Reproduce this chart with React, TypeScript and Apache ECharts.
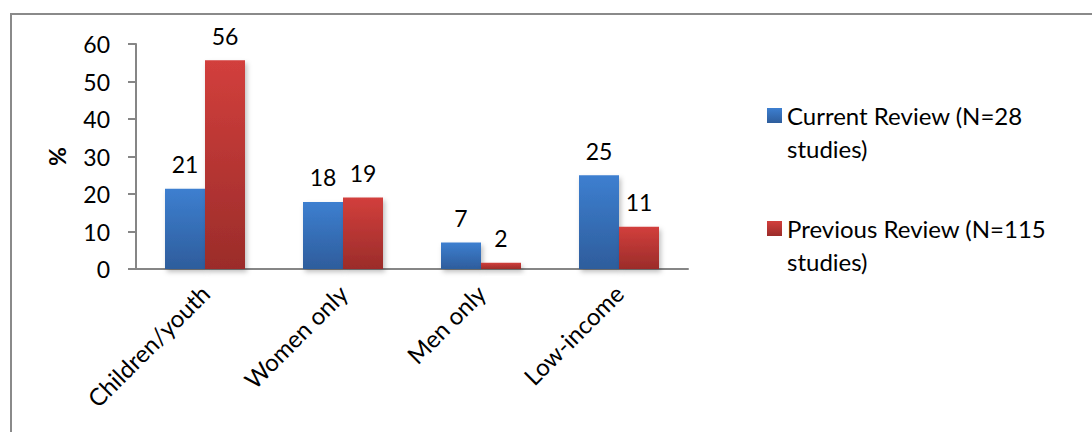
import React, { useEffect, useRef } from "react";
import * as echarts from "echarts";

const categories = ["Children/youth", "Women only", "Men only", "Low-income"];
const currentReview = [21.4, 17.9, 7.1, 25.0];
const previousReview = [55.7, 19.1, 1.7, 11.3];
const seriesNames = ["Current Review (N=28\nstudies)", "Previous Review (N=115\nstudies)"];
const yTicks = { min: 0, max: 60, interval: 10 };

const FONT = "Lato, 'Open Sans', sans-serif";

const blueGrad = new echarts.graphic.LinearGradient(0, 0, 0, 1, [
  { offset: 0, color: "#3d7fd0" },
  { offset: 1, color: "#2e5d9c" },
]);
const redGrad = new echarts.graphic.LinearGradient(0, 0, 0, 1, [
  { offset: 0, color: "#d23f3c" },
  { offset: 1, color: "#9b2c2a" },
]);

export default function App() {
  const ref = useRef<HTMLDivElement>(null);
  useEffect(() => {
    const chart = echarts.init(ref.current!, null, { renderer: "svg" });
    const labelCfg = {
      show: true,
      position: "top",
      distance: 13,
      fontFamily: FONT,
      fontSize: 23,
      color: "#000",
      formatter: (p: any) => String(Math.round(p.value)),
    };
    const shadow = {
      shadowBlur: 5,
      shadowOffsetX: 2,
      shadowOffsetY: 3,
      shadowColor: "rgba(0,0,0,0.25)",
    };
    chart.setOption({
      animation: false,
      backgroundColor: "#fff",
      graphic: [
        {
          type: "rect",
          shape: { x: 11, y: 14, width: 1200, height: 600 },
          style: { fill: "none", stroke: "#8a8a8a", lineWidth: 2 },
          silent: true,
          z: 0,
        },
      ],
      grid: { left: 136, top: 44, right: 404, bottom: 163 },
      legend: {
        orient: "vertical",
        left: 762,
        top: 61,
        itemWidth: 15,
        itemHeight: 15,
        itemGap: 14,
        icon: "rect",
        formatter: (name: string) => "\n" + name,
        textStyle: { fontFamily: FONT, fontSize: 24, color: "#000", lineHeight: 33 },
        data: seriesNames,
      },
      xAxis: {
        type: "category",
        data: categories,
        axisLine: { lineStyle: { color: "#868686", width: 2 } },
        axisTick: { length: 7, lineStyle: { color: "#868686", width: 2 } },
        axisLabel: {
          rotate: 45,
          margin: 20,
          interval: 0,
          fontFamily: FONT,
          fontSize: 24,
          color: "#000",
        },
      },
      yAxis: {
        type: "value",
        min: yTicks.min,
        max: yTicks.max,
        interval: yTicks.interval,
        name: "%",
        nameLocation: "middle",
        nameGap: 68,
        nameRotate: 90,
        nameTextStyle: { fontFamily: FONT, fontSize: 23, fontWeight: "bold", color: "#000" },
        splitLine: { show: false },
        axisLine: { show: true, lineStyle: { color: "#868686", width: 2 } },
        axisTick: { show: true, length: 8, lineStyle: { color: "#868686", width: 2 } },
        axisLabel: { margin: 26, fontFamily: FONT, fontSize: 23, color: "#000" },
      },
      series: [
        {
          name: seriesNames[0],
          type: "bar",
          data: currentReview,
          barWidth: 40,
          barGap: "0%",
          itemStyle: { color: blueGrad, ...shadow },
          label: labelCfg,
        },
        {
          name: seriesNames[1],
          type: "bar",
          data: previousReview,
          barWidth: 40,
          barGap: "0%",
          itemStyle: { color: redGrad, ...shadow },
          label: labelCfg,
        },
      ],
    });
    return () => chart.dispose();
  }, []);
  return (
    <div
      ref={ref}
      style={{ position: "fixed", left: 0, top: 0, width: 1092, height: 432, background: "#fff" }}
    />
  );
}
